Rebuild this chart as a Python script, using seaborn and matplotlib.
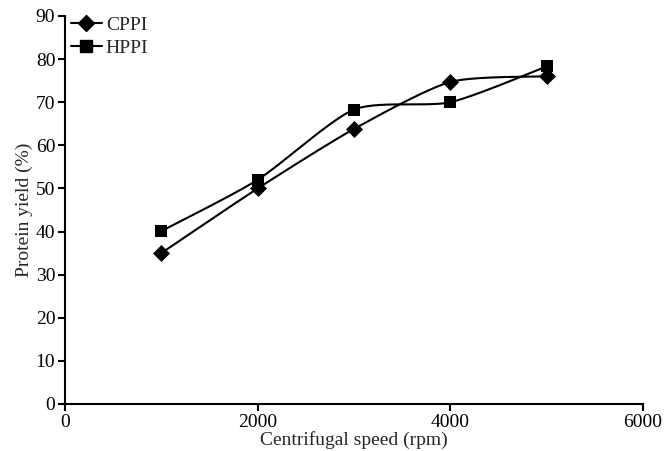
import numpy as np
import pandas as pd
import matplotlib
matplotlib.use("Agg")
import matplotlib.pyplot as plt
from matplotlib.lines import Line2D
import seaborn as sns

speed = [1000, 2000, 3000, 4000, 5000]
cppi = [35.0, 50.0, 63.8, 74.7, 76.0]
hppi = [40.1, 52.0, 68.3, 70.0, 78.3]
series_names = ["CPPI", "HPPI"]
markers = ["D", "s"]

sns.set_style("ticks")
plt.rcParams["font.family"] = ["Liberation Serif", "DejaVu Serif"]

def cardinal(x, y, k=0.35, n=40):
    x = np.asarray(x, float); y = np.asarray(y, float)
    px = np.concatenate([[x[0]], x, [x[-1]]])
    py = np.concatenate([[y[0]], y, [y[-1]]])
    xs, ys = [], []
    t = np.linspace(0, 1, n)
    h00 = 2 * t**3 - 3 * t**2 + 1
    h10 = t**3 - 2 * t**2 + t
    h01 = -2 * t**3 + 3 * t**2
    h11 = t**3 - t**2
    for i in range(1, len(px) - 2):
        for arr, out in ((px, xs), (py, ys)):
            p0, p1, p2, p3 = arr[i - 1], arr[i], arr[i + 1], arr[i + 2]
            m1 = k * (p2 - p0)
            m2 = k * (p3 - p1)
            out.append(h00 * p1 + h10 * m1 + h01 * p2 + h11 * m2)
    return np.concatenate(xs), np.concatenate(ys)

fig = plt.figure(figsize=(6.66, 4.51), dpi=100)
ax = fig.add_axes([65 / 666, 1 - 404 / 451, (643 - 65) / 666, (404 - 16) / 451])

df = pd.DataFrame({"speed": speed * 2, "yield": cppi + hppi,
                   "series": [series_names[0]] * 5 + [series_names[1]] * 5})

handles = []
for name, vals, m in zip(series_names, [cppi, hppi], markers):
    sx, sy = cardinal(speed, vals)
    ax.plot(sx, sy, color="black", lw=1.5, zorder=2)
    sub = df[df["series"] == name]
    sns.scatterplot(data=sub, x="speed", y="yield", marker=m, color="black",
                    s=75 if m == "D" else 80, edgecolor="black", linewidth=0,
                    ax=ax, zorder=3, legend=False)
    handles.append(Line2D([], [], color="black", lw=1.5, marker=m,
                          markersize=8 if m == "D" else 8.5, label=name))

ax.set_xlim(0, 6000)
ax.set_ylim(0, 90)
ax.set_xticks([0, 2000, 4000, 6000])
ax.set_yticks(range(0, 91, 10))
ax.tick_params(axis="both", labelsize=14, width=1.5, length=5, color="black",
               labelcolor="black", pad=2)
for s in ["left", "bottom"]:
    ax.spines[s].set_linewidth(1.5)
    ax.spines[s].set_color("black")
sns.despine(ax=ax)
ax.set_xlabel("Centrifugal speed (rpm)", fontsize=14, labelpad=0)
ax.set_ylabel("Protein yield (%)", fontsize=14, labelpad=2)

ax.legend(handles=handles, loc="upper left", bbox_to_anchor=(-0.01, 1.03),
          frameon=False, fontsize=14, handlelength=1.6, handletextpad=0.2,
          borderaxespad=0.2, labelspacing=0.3)

fig.savefig("out.png", dpi=100)
